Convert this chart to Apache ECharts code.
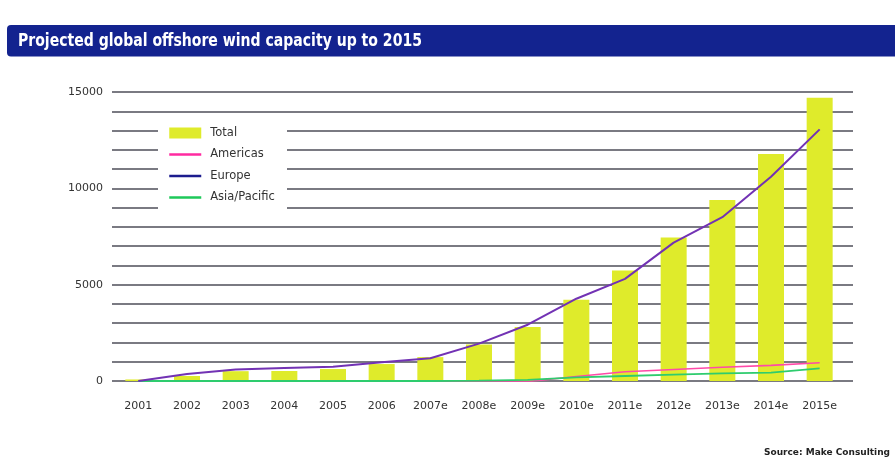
<!DOCTYPE html>
<html>
<head>
<meta charset="utf-8">
<style>
  html, body { margin: 0; padding: 0; background: #ffffff; }
  #chart { width: 895px; height: 460px; }
</style>
<script src="https://cdn.jsdelivr.net/npm/echarts@6/dist/echarts.min.js"></script>
</head>
<body>
<div id="chart"></div>
<script>
// Offshore wind capacity (MW) by year, actual and estimated
const years = ['2001', '2002', '2003', '2004', '2005', '2006', '2007e', '2008e', '2009e', '2010e', '2011e', '2012e', '2013e', '2014e', '2015e'];
const total = [80, 260, 510, 520, 620, 880, 1240, 1900, 2800, 4220, 5730, 7450, 9400, 11780, 14700];
const americas = [0, 0, 0, 0, 0, 0, 0, -30, -30, 230, 480, 600, 710, 810, 950];
const europe = [0, 360, 600, 670, 740, 970, 1180, 1940, 2920, 4270, 5300, 7180, 8500, 10600, 13060];
const asiaPacific = [0, 0, 0, 0, 0, 0, 0, 20, 60, 190, 260, 330, 400, 430, 660];
const yTicks = [0, 5000, 10000, 15000];

const FONT = 'DejaVu Sans';
const chart = echarts.init(document.getElementById('chart'), null, { renderer: 'canvas' });

chart.setOption({
  animation: false,
  backgroundColor: '#ffffff',
  graphic: [
    {
      type: 'rect', z: 0,
      shape: { x: 7, y: 25, width: 895, height: 31.5, r: [4, 0, 0, 4] },
      style: { fill: '#13238f' }
    },
    {
      // condensed heading: squeeze the bold face horizontally
      type: 'text', z: 1, x: 18, y: 41, scaleX: 0.867,
      style: {
        text: 'Projected global offshore wind capacity up to 2015',
        fill: '#ffffff',
        verticalAlign: 'middle',
        font: 'bold 18px "DejaVu Sans Condensed", "DejaVu Sans", sans-serif'
      }
    },
    // white panel behind the legend
    {
      type: 'rect', z: 3,
      shape: { x: 158, y: 118, width: 129, height: 96 },
      style: { fill: '#ffffff' }
    },
    {
      type: 'text', z: 1, right: 5, top: 448,
      style: {
        text: 'Source: Make Consulting',
        fill: '#222222',
        font: 'bold 9px "DejaVu Sans", sans-serif'
      }
    }
  ],
  legend: {
    orient: 'vertical',
    left: 168,
    top: 127,
    padding: 0,
    itemWidth: 32,
    itemHeight: 11,
    itemGap: 9.5,
    z: 5,
    selectedMode: false,
    textStyle: { fontFamily: FONT, fontSize: 11.5, color: '#333333', padding: [0, 0, 0, 4] },
    lineStyle: { width: 2.5 },
    data: [
      { name: 'Total', icon: 'rect' },
      { name: 'Americas', itemStyle: { opacity: 0 }, lineStyle: { color: '#ff2aa0' } },
      { name: 'Europe', itemStyle: { opacity: 0 }, lineStyle: { color: '#1c1c8e' } },
      { name: 'Asia/Pacific', itemStyle: { opacity: 0 }, lineStyle: { color: '#1ec85a' } }
    ]
  },
  grid: [
    { left: 114, right: 51, top: 92, bottom: 79 },
    { left: 112, right: 42, top: 92, bottom: 79 }
  ],
  xAxis: [
    {
      type: 'category', gridIndex: 0, data: years, boundaryGap: true,
      axisLine: { show: false }, axisTick: { show: false },
      axisLabel: { fontFamily: FONT, fontSize: 11, color: '#333333', margin: 20, interval: 0 }
    },
    {
      type: 'value', gridIndex: 1, min: 0, max: 1, show: false
    }
  ],
  yAxis: [
    {
      type: 'value', gridIndex: 0, min: 0, max: 15000, interval: 5000,
      axisLine: { show: false }, axisTick: { show: false }, splitLine: { show: false },
      axisLabel: {
        fontFamily: FONT, fontSize: 11, color: '#333333', margin: 11,
        formatter: v => (yTicks.indexOf(v) >= 0 ? String(v) : '')
      }
    },
    {
      type: 'value', gridIndex: 1, min: 0, max: 15000, interval: 1000,
      axisLine: { show: false }, axisTick: { show: false }, axisLabel: { show: false },
      splitLine: { show: true, lineStyle: { color: '#7a7a82', width: 2 } }
    }
  ],
  series: [
    {
      name: 'Total', type: 'bar', xAxisIndex: 0, yAxisIndex: 0,
      data: total, barWidth: 26, z: 2,
      itemStyle: { color: '#dfeb2b' }
    },
    {
      name: 'Americas', type: 'line', xAxisIndex: 0, yAxisIndex: 0,
      data: americas, symbol: 'none', z: 3,
      lineStyle: { color: '#ff4aa8', width: 1.6 }, itemStyle: { color: '#ff4aa8' }
    },
    {
      name: 'Europe', type: 'line', xAxisIndex: 0, yAxisIndex: 0,
      data: europe, symbol: 'none', z: 4,
      lineStyle: { color: '#7232b4', width: 2 }, itemStyle: { color: '#7232b4' }
    },
    {
      name: 'Asia/Pacific', type: 'line', xAxisIndex: 0, yAxisIndex: 0,
      data: asiaPacific, symbol: 'none', z: 3,
      lineStyle: { color: '#2ecc6e', width: 1.8 }, itemStyle: { color: '#2ecc6e' }
    }
  ]
});
</script>
</body>
</html>
